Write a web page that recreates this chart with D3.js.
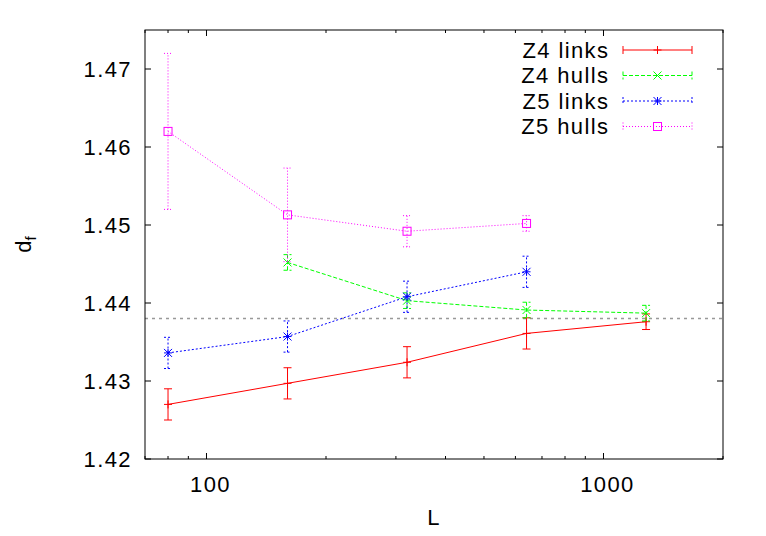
<!DOCTYPE html>
<html>
<head>
<meta charset="utf-8">
<script src="https://cdn.jsdelivr.net/npm/d3@7"></script>
<style>
    body { margin: 0; background: #fff; }
    text { font-family: "Liberation Sans", Arial, sans-serif; }
</style>
</head>
<body>
<script>
// system sizes L
const sizes = [80, 160, 320, 640, 1280];

// d_f estimates and their errors, one list per series
const z4LinksVals = [1.4270, 1.4297, 1.4324, 1.4361, 1.4376];
const z4LinksErr = [0.002, 0.002, 0.002, 0.002, 0.001];
const z4HullsVals = [null, 1.4452, 1.4403, 1.4391, 1.4387];
const z4HullsErr = [null, 0.001, 0.001, 0.001, 0.001];
const z5LinksVals = [1.4336, 1.4357, 1.4408, 1.4440];
const z5LinksErr = [0.002, 0.002, 0.002, 0.002];
const z5HullsVals = [1.4620, 1.4513, 1.4492, 1.4502];
const z5HullsErr = [0.010, 0.006, 0.002, 0.001];

const refLine = 1.438;

const seriesNames = ["Z4 links", "Z4 hulls", "Z5 links", "Z5 hulls"];
const yTicks = [1.42, 1.43, 1.44, 1.45, 1.46, 1.47];
const xTicks = [100, 1000];
const xMinorTicks = [70, 80, 90, 200, 300, 400, 500, 600, 700, 800, 900, 2000];

const width = 766, height = 536;
const margin = {top: 30, right: 43, bottom: 77, left: 145};
const fontSize = 22, spacing = 1.4;

const svg = d3.select("body").append("svg")
    .attr("width", width)
    .attr("height", height);

const x = d3.scaleLog()
    .domain([70, 2000])
    .range([margin.left, width - margin.right]);

const y = d3.scaleLinear()
    .domain([1.42, 1.475])
    .range([height - margin.bottom, margin.top]);

const styles = [
    {color: "#ff0000", dash: null, marker: "plus"},
    {color: "#00ff00", dash: "4,2", marker: "cross"},
    {color: "#0000ff", dash: "2,2", marker: "star"},
    {color: "#ff00ff", dash: "1,2", marker: "square"}
];

function build(vals, errs) {
    return vals.map((v, i) => ({L: sizes[i], v: v, e: errs[i]})).filter(d => d.v != null);
}

const series = [
    build(z4LinksVals, z4LinksErr),
    build(z4HullsVals, z4HullsErr),
    build(z5LinksVals, z5LinksErr),
    build(z5HullsVals, z5HullsErr)
];

function label(sel) {
    return sel.attr("font-size", fontSize).attr("letter-spacing", spacing);
}

// reference line
svg.append("line")
    .attr("x1", x.range()[0]).attr("x2", x.range()[1])
    .attr("y1", y(refLine)).attr("y2", y(refLine))
    .attr("stroke", "#999")
    .attr("stroke-width", 1.5)
    .attr("stroke-dasharray", "3,4");

function drawMarker(g, kind, cx, cy, color) {
    const s = 4;
    if (kind === "plus") {
        g.append("path").attr("d", `M${cx - s},${cy}H${cx + s}M${cx},${cy - s}V${cy + s}`)
            .attr("stroke", color).attr("fill", "none");
    } else if (kind === "cross") {
        g.append("path").attr("d", `M${cx - s},${cy - s}L${cx + s},${cy + s}M${cx - s},${cy + s}L${cx + s},${cy - s}`)
            .attr("stroke", color).attr("fill", "none");
    } else if (kind === "star") {
        g.append("path").attr("d", `M${cx - s},${cy}H${cx + s}M${cx},${cy - s}V${cy + s}M${cx - s},${cy - s}L${cx + s},${cy + s}M${cx - s},${cy + s}L${cx + s},${cy - s}`)
            .attr("stroke", color).attr("fill", "none");
    } else {
        g.append("rect").attr("x", cx - s).attr("y", cy - s).attr("width", 2 * s).attr("height", 2 * s)
            .attr("stroke", color).attr("fill", "none");
    }
}

const line = d3.line().x(d => x(d.L)).y(d => y(d.v));

series.forEach((data, i) => {
    const st = styles[i];
    const g = svg.append("g");
    g.append("path")
        .attr("d", line(data))
        .attr("fill", "none")
        .attr("stroke", st.color)
        .attr("stroke-width", 1)
        .attr("stroke-dasharray", st.dash);
    data.forEach(d => {
        const cx = x(d.L);
        const y0 = y(d.v - d.e), y1 = y(d.v + d.e);
        g.append("path")
            .attr("d", `M${cx},${y0}V${y1}M${cx - 4},${y0}H${cx + 4}M${cx - 4},${y1}H${cx + 4}`)
            .attr("fill", "none")
            .attr("stroke", st.color)
            .attr("stroke-dasharray", st.dash);
        drawMarker(g, st.marker, cx, y(d.v), st.color);
    });
});

// frame
const x0 = x.range()[0], x1 = x.range()[1];
const yb = y.range()[0], yt = y.range()[1];
svg.append("rect")
    .attr("x", x0).attr("y", yt)
    .attr("width", x1 - x0).attr("height", yb - yt)
    .attr("fill", "none").attr("stroke", "#000");

// y ticks
yTicks.forEach(t => {
    svg.append("path")
        .attr("d", `M${x0},${y(t)}h6M${x1},${y(t)}h-6`)
        .attr("stroke", "#000");
    svg.append("text")
        .attr("x", x0 - 13).attr("y", y(t))
        .attr("dy", "0.36em")
        .attr("text-anchor", "end")
        .call(label)
        .text(d3.format(".2f")(t));
});

// x ticks, major and minor
xMinorTicks.forEach(t => {
    svg.append("path")
        .attr("d", `M${x(t)},${yb}v-3M${x(t)},${yt}v3`)
        .attr("stroke", "#000");
});
xTicks.forEach(t => {
    svg.append("path")
        .attr("d", `M${x(t)},${yb}v-6M${x(t)},${yt}v6`)
        .attr("stroke", "#000");
    svg.append("text")
        .attr("x", x(t) + 4).attr("y", yb + 33)
        .attr("text-anchor", "middle")
        .call(label)
        .text(t);
});

// axis titles
svg.append("text")
    .attr("x", (x0 + x1) / 2).attr("y", yb + 66)
    .attr("text-anchor", "middle")
    .call(label)
    .text("L");

const yl = svg.append("text")
    .attr("transform", `translate(31,${(yb + yt) / 2}) rotate(-90)`)
    .attr("text-anchor", "middle")
    .attr("font-size", fontSize);
yl.append("tspan").text("d");
yl.append("tspan").attr("font-size", 15).attr("dy", 5).text("f");

// legend
const legend = svg.append("g");
seriesNames.forEach((name, i) => {
    const st = styles[i];
    const ly = 50 + i * 25.5;
    legend.append("text")
        .attr("x", 608 + spacing).attr("y", ly)
        .attr("dy", "0.36em")
        .attr("text-anchor", "end")
        .call(label)
        .text(name);
    legend.append("path")
        .attr("d", `M623,${ly}H692M623,${ly - 4}V${ly + 4}M692,${ly - 4}V${ly + 4}`)
        .attr("fill", "none")
        .attr("stroke", st.color)
        .attr("stroke-dasharray", st.dash);
    drawMarker(legend, st.marker, 657.5, ly, st.color);
});
</script>
</body>
</html>
